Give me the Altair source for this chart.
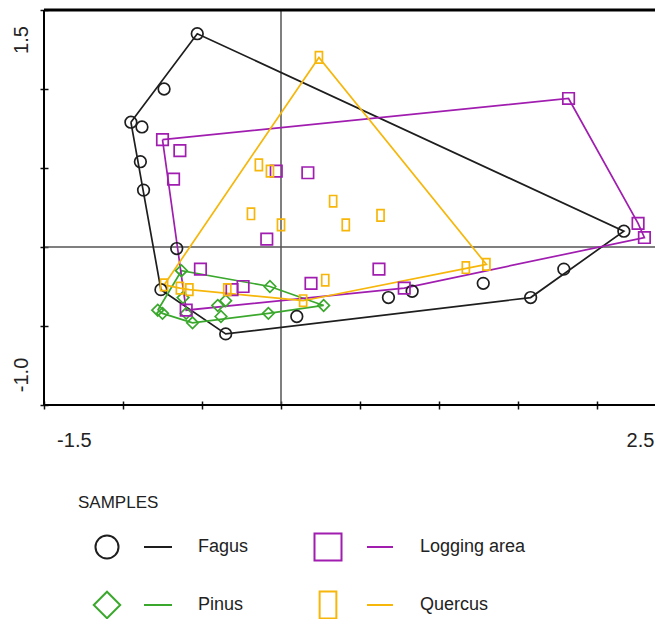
import altair as alt
import pandas as pd

# ---------------- data ----------------
groups = ["Fagus", "Pinus", "Logging area", "Quercus"]
colors = ["#1e1e1e", "#3aa82c", "#a01db0", "#f6b60a"]
shapes = ["circle", "diamond", "square", "M-0.62,-1L0.62,-1L0.62,1L-0.62,1Z"]
sizes = [135, 130, 175, 150]
legend_sizes = [531, 700, 729, 729]

fagus_x = [-0.53, -0.74, -0.95, -0.88, -0.89, -0.87, -0.66, -0.76, -0.35, 0.10, 0.68, 0.83, 1.28, 1.58, 1.79, 2.17]
fagus_y = [1.35, 1.00, 0.79, 0.76, 0.54, 0.36, -0.01, -0.27, -0.55, -0.44, -0.32, -0.28, -0.23, -0.32, -0.14, 0.10]

pinus_x = [-0.63, -0.07, 0.27, -0.08, -0.38, -0.56, -0.78, -0.75, -0.62, -0.60, -0.40, -0.35]
pinus_y = [-0.15, -0.25, -0.37, -0.42, -0.44, -0.48, -0.40, -0.42, -0.32, -0.42, -0.37, -0.34]

logging_x = [-0.75, -0.64, -0.68, -0.03, 0.17, -0.09, -0.51, -0.31, -0.24, 0.19, 0.62, 0.78, -0.60, 1.82, 2.26, 2.30]
logging_y = [0.68, 0.61, 0.43, 0.48, 0.47, 0.05, -0.14, -0.27, -0.25, -0.23, -0.14, -0.26, -0.40, 0.94, 0.15, 0.06]

quercus_x = [0.24, -0.14, -0.07, -0.19, 0.00, 0.33, 0.41, 0.63, 0.28, 0.14, -0.34, -0.58, -0.64, -0.74, 1.17, 1.30]
quercus_y = [1.20, 0.52, 0.48, 0.21, 0.14, 0.29, 0.14, 0.20, -0.21, -0.34, -0.27, -0.27, -0.26, -0.24, -0.13, -0.11]

x_ticks = [-1.5, -1.0, -0.5, 0.0, 0.5, 1.0, 1.5, 2.0]
y_ticks = [-1.0, -0.5, 0.0, 0.5, 1.0, 1.5]
x_labels = ["-1.5", "2.5"]
y_labels = ["-1.0", "1.5"]
legend_title = "SAMPLES"

series = {
    "Fagus": (fagus_x, fagus_y),
    "Pinus": (pinus_x, pinus_y),
    "Logging area": (logging_x, logging_y),
    "Quercus": (quercus_x, quercus_y),
}

W, H = 611, 395
X_DOMAIN = [-1.5, -1.5 + W / 158.0]
Y_DOMAIN = [-1.0, 1.5]


def hull(xs, ys):
    pts = sorted(set(zip(xs, ys)))

    def cross(o, a, b):
        return (a[0] - o[0]) * (b[1] - o[1]) - (a[1] - o[1]) * (b[0] - o[0])

    lower = []
    for p in pts:
        while len(lower) >= 2 and cross(lower[-2], lower[-1], p) <= 0:
            lower.pop()
        lower.append(p)
    upper = []
    for p in reversed(pts):
        while len(upper) >= 2 and cross(upper[-2], upper[-1], p) <= 0:
            upper.pop()
        upper.append(p)
    h = lower[:-1] + upper[:-1]
    return h + [h[0]]


pt_rows, hull_rows = [], []
for g, (xs_, ys_) in series.items():
    for x, y in zip(xs_, ys_):
        pt_rows.append({"group": g, "x": x, "y": y})
    for i, (x, y) in enumerate(hull(xs_, ys_)):
        hull_rows.append({"group": g, "x": x, "y": y, "ord": i})
pts = pd.DataFrame(pt_rows)
hulls = pd.DataFrame(hull_rows)

xs = alt.Scale(domain=X_DOMAIN, nice=False, zero=False)
ys = alt.Scale(domain=Y_DOMAIN, nice=False, zero=False)
col_scale = alt.Scale(domain=groups, range=colors)
shape_scale = alt.Scale(domain=groups, range=shapes)
size_scale = alt.Scale(domain=groups, range=sizes)

x_axis = alt.Axis(values=x_ticks, labels=False, title=None, domain=False, grid=False,
                  tickSize=8, offset=-4, tickColor="#111", tickWidth=1.5)
y_axis = alt.Axis(values=y_ticks, labels=False, title=None, domain=False, grid=False,
                  tickSize=8, offset=-4, tickColor="#111", tickWidth=1.5)

# zero lines
zero_v = alt.Chart(pd.DataFrame({"v": [0.0]})).mark_rule(color="#555", strokeWidth=1.5).encode(
    x=alt.X("v:Q", scale=xs, axis=x_axis))
zero_h = alt.Chart(pd.DataFrame({"v": [0.0]})).mark_rule(color="#555", strokeWidth=1.5).encode(
    y=alt.Y("v:Q", scale=ys, axis=y_axis))

# frame lines
top_line = alt.Chart(pd.DataFrame({"v": [Y_DOMAIN[1]]})).mark_rule(color="#000", strokeWidth=3).encode(
    y=alt.Y("v:Q", scale=ys))
bottom_line = alt.Chart(pd.DataFrame({"v": [Y_DOMAIN[0]]})).mark_rule(color="#000", strokeWidth=2).encode(
    y=alt.Y("v:Q", scale=ys))
left_line = alt.Chart(pd.DataFrame({"v": [X_DOMAIN[0]]})).mark_rule(color="#000", strokeWidth=2).encode(
    x=alt.X("v:Q", scale=xs))

lines = alt.Chart(hulls).mark_line(strokeWidth=1.7).encode(
    x=alt.X("x:Q", scale=xs),
    y=alt.Y("y:Q", scale=ys),
    color=alt.Color("group:N", scale=col_scale, legend=None),
    detail="group:N",
    order="ord:Q",
)

points = alt.Chart(pts).mark_point(filled=False, strokeWidth=1.7, opacity=1).encode(
    x=alt.X("x:Q", scale=xs),
    y=alt.Y("y:Q", scale=ys),
    color=alt.Color("group:N", scale=col_scale, legend=None),
    shape=alt.Shape("group:N", scale=shape_scale, legend=None),
    size=alt.Size("group:N", scale=size_scale, legend=None),
)

# axis end labels (placed just inside the axis ends)
xl = pd.DataFrame({"t": x_labels, "x": [-1.308, 2.275], "y": [-1.228, -1.228]})
x_text = alt.Chart(xl).mark_text(fontSize=20, font="Liberation Sans", color="#222",
                                 align="center", baseline="middle").encode(
    x=alt.X("x:Q", scale=xs), y=alt.Y("y:Q", scale=ys), text="t:N")
yl = pd.DataFrame({"t": y_labels, "x": [-1.64, -1.64], "y": [-0.81, 1.31]})
y_text = alt.Chart(yl).mark_text(fontSize=20, font="Liberation Sans", color="#222",
                                 align="center", baseline="middle", angle=270).encode(
    x=alt.X("x:Q", scale=xs), y=alt.Y("y:Q", scale=ys), text="t:N")

# ---------------- custom legend ----------------
one = pd.DataFrame({"a": [0]})
leg_layers = [
    alt.Chart(one).mark_text(text=legend_title, fontSize=17, font="Liberation Sans", color="#222",
                             align="left", baseline="middle").encode(x=alt.value(34), y=alt.value(493))
]
col_x = [(63, 100, 128, 154), (284, 323, 349, 376)]
row_y = [537, 595]
for i, g in enumerate(groups):
    c, r = (0, i) if i < 2 else (1, i - 2)
    sx, l1, l2, tx = col_x[c]
    yy = row_y[r]
    leg_layers.append(alt.Chart(one).mark_point(shape=shapes[i], size=legend_sizes[i], filled=False,
                                                color=colors[i], strokeWidth=2, opacity=1).encode(
        x=alt.value(sx), y=alt.value(yy)))
    leg_layers.append(alt.Chart(one).mark_rule(color=colors[i], strokeWidth=2).encode(
        x=alt.value(l1), x2=alt.value(l2), y=alt.value(yy)))
    leg_layers.append(alt.Chart(one).mark_text(text=g, fontSize=18, font="Liberation Sans", color="#222",
                                               align="left", baseline="middle").encode(
        x=alt.value(tx), y=alt.value(yy)))

chart = alt.layer(
    zero_v, zero_h, lines, points, top_line, bottom_line, left_line, x_text, y_text, *leg_layers
).properties(
    width=W, height=H,
    autosize=alt.AutoSizeParams(type="none"),
    padding={"left": 36, "top": 2, "right": 1, "bottom": 214},
).configure_view(stroke=None)

chart.save("out.html", embed_options={"renderer": "svg", "actions": False})
